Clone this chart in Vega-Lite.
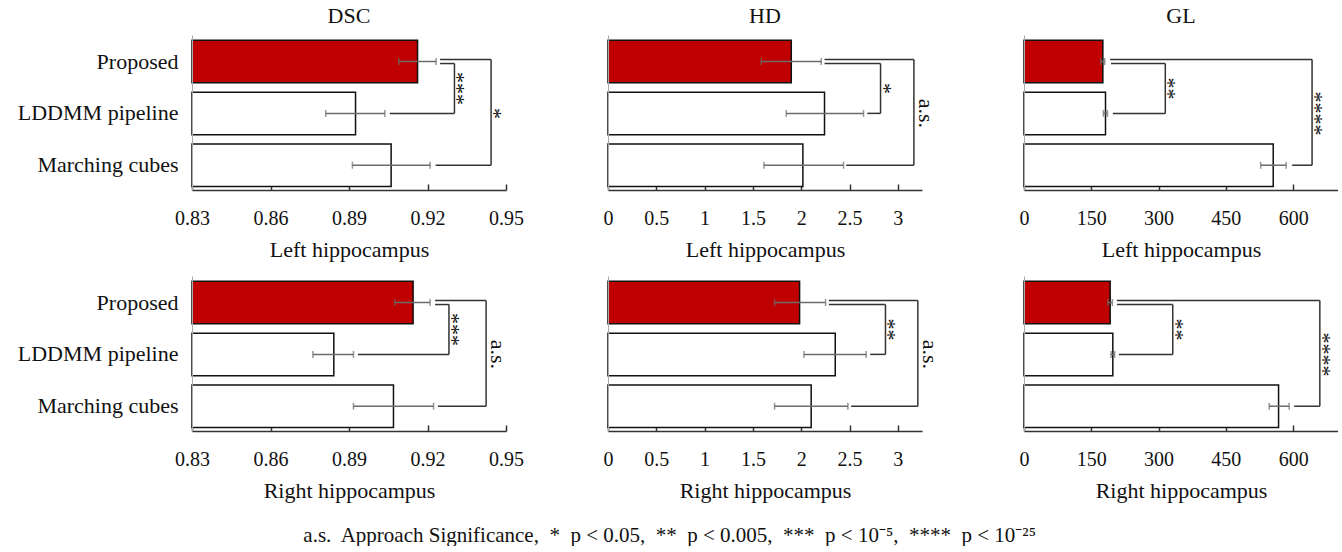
{
  "$schema": "https://vega.github.io/schema/vega-lite/v6.json",
  "padding": {"left": 17, "top": 5, "right": 0, "bottom": 0},
  "background": "white",
  "datasets": {
    "bars": [
      {"metric": "DSC", "side": "Left", "method": "Proposed", "value": 0.9162, "lo": 0.9090, "hi": 0.9233},
      {"metric": "DSC", "side": "Left", "method": "LDDMM pipeline", "value": 0.8925, "lo": 0.8811, "hi": 0.9037},
      {"metric": "DSC", "side": "Left", "method": "Marching cubes", "value": 0.9061, "lo": 0.8913, "hi": 0.9210},
      {"metric": "DSC", "side": "Right", "method": "Proposed", "value": 0.9145, "lo": 0.9075, "hi": 0.9210},
      {"metric": "DSC", "side": "Right", "method": "LDDMM pipeline", "value": 0.8842, "lo": 0.8762, "hi": 0.8917},
      {"metric": "DSC", "side": "Right", "method": "Marching cubes", "value": 0.9070, "lo": 0.8917, "hi": 0.9223},
      {"metric": "HD", "side": "Left", "method": "Proposed", "value": 1.897, "lo": 1.586, "hi": 2.207},
      {"metric": "HD", "side": "Left", "method": "LDDMM pipeline", "value": 2.241, "lo": 1.845, "hi": 2.645},
      {"metric": "HD", "side": "Left", "method": "Marching cubes", "value": 2.017, "lo": 1.614, "hi": 2.438},
      {"metric": "HD", "side": "Right", "method": "Proposed", "value": 1.983, "lo": 1.724, "hi": 2.252},
      {"metric": "HD", "side": "Right", "method": "LDDMM pipeline", "value": 2.352, "lo": 2.028, "hi": 2.672},
      {"metric": "HD", "side": "Right", "method": "Marching cubes", "value": 2.103, "lo": 1.724, "hi": 2.483},
      {"metric": "GL", "side": "Left", "method": "Proposed", "value": 175.8, "lo": 171, "hi": 180},
      {"metric": "GL", "side": "Left", "method": "LDDMM pipeline", "value": 181.7, "lo": 177, "hi": 186},
      {"metric": "GL", "side": "Left", "method": "Marching cubes", "value": 555.6, "lo": 527.6, "hi": 584.4},
      {"metric": "GL", "side": "Right", "method": "Proposed", "value": 192.1, "lo": 187, "hi": 197},
      {"metric": "GL", "side": "Right", "method": "LDDMM pipeline", "value": 198, "lo": 194, "hi": 202},
      {"metric": "GL", "side": "Right", "method": "Marching cubes", "value": 567.5, "lo": 546.7, "hi": 591.2}
    ],
    "brackets": [
      {"metric": "DSC", "side": "Left", "kind": "short", "from": "Proposed", "to": "LDDMM pipeline", "mid": "LDDMM pipeline", "start1": 0.9248, "start2": 0.9056, "bx": 0.9303, "label": "***"},
      {"metric": "DSC", "side": "Left", "kind": "long", "from": "Proposed", "to": "Marching cubes", "mid": "LDDMM pipeline", "start1": 0.9248, "start2": 0.9231, "bx": 0.9443, "label": "*"},
      {"metric": "DSC", "side": "Right", "kind": "short", "from": "Proposed", "to": "LDDMM pipeline", "mid": "LDDMM pipeline", "start1": 0.9229, "start2": 0.8934, "bx": 0.9282, "label": "***"},
      {"metric": "DSC", "side": "Right", "kind": "long", "from": "Proposed", "to": "Marching cubes", "mid": "LDDMM pipeline", "start1": 0.9229, "start2": 0.9240, "bx": 0.9424, "label": "a.s."},
      {"metric": "HD", "side": "Left", "kind": "short", "from": "Proposed", "to": "LDDMM pipeline", "mid": "LDDMM pipeline", "start1": 2.241, "start2": 2.683, "bx": 2.821, "label": "*"},
      {"metric": "HD", "side": "Left", "kind": "long", "from": "Proposed", "to": "Marching cubes", "mid": "LDDMM pipeline", "start1": 2.241, "start2": 2.466, "bx": 3.166, "label": "a.s."},
      {"metric": "HD", "side": "Right", "kind": "short", "from": "Proposed", "to": "LDDMM pipeline", "mid": "LDDMM pipeline", "start1": 2.286, "start2": 2.714, "bx": 2.872, "label": "**"},
      {"metric": "HD", "side": "Right", "kind": "long", "from": "Proposed", "to": "Marching cubes", "mid": "LDDMM pipeline", "start1": 2.286, "start2": 2.517, "bx": 3.207, "label": "a.s."},
      {"metric": "GL", "side": "Left", "kind": "short", "from": "Proposed", "to": "LDDMM pipeline", "mid": "LDDMM pipeline", "start1": 194, "start2": 198, "bx": 315, "label": "**"},
      {"metric": "GL", "side": "Left", "kind": "long", "from": "Proposed", "to": "Marching cubes", "mid": "LDDMM pipeline", "start1": 192, "start2": 597.7, "bx": 642.2, "label": "****"},
      {"metric": "GL", "side": "Right", "kind": "short", "from": "Proposed", "to": "LDDMM pipeline", "mid": "LDDMM pipeline", "start1": 207, "start2": 211.4, "bx": 331.6, "label": "**"},
      {"metric": "GL", "side": "Right", "kind": "long", "from": "Proposed", "to": "Marching cubes", "mid": "LDDMM pipeline", "start1": 207, "start2": 602.4, "bx": 659.5, "label": "****"}
    ]
  },
  "title": {"text": "a.s.\u00a0 Approach Significance,\u00a0 *\u00a0 p < 0.05,\u00a0 **\u00a0 p < 0.005,\u00a0 ***\u00a0 p < 10⁻⁵,\u00a0 ****\u00a0 p < 10⁻²⁵", "orient": "bottom", "anchor": "middle", "frame": "bounds", "fontSize": 21, "font": "Liberation Serif", "fontWeight": "normal", "color": "#111", "offset": 24, "dx": -8},
  "columns": 3,
  "spacing": {"row": 86, "column": 102},
  "bounds": "flush",
  "concat": [
    {
      "width": 314, "height": 155,
      "title": {"text": "DSC", "fontSize": 22, "font": "Liberation Serif", "fontWeight": "normal", "color": "#111", "offset": 7},
      "layer": [
        {
          "data": {"name": "bars"},
          "transform": [{"filter": "datum.metric == 'DSC' && datum.side == 'Left'"}],
          "layer": [
            {"mark": {"type": "bar", "stroke": "#111", "strokeWidth": 1.5},
             "encoding": {
               "y": {"field": "method", "type": "nominal", "scale": {"domain": ["Proposed", "LDDMM pipeline", "Marching cubes"], "paddingInner": 0.18, "paddingOuter": 0.085, "align": 0.6}, "axis": {"title": null, "ticks": false, "labelFontSize": 22, "labelPadding": 14, "domainColor": "#aaaaaa", "zindex": 1}},
               "x": {"field": "value", "type": "quantitative", "scale": {"domain": [0.83, 0.95], "nice": false, "zero": false}, "axis": {"title": "Left hippocampus", "values": [0.83, 0.86, 0.89, 0.92, 0.95], "format": ".2f"}},
               "x2": {"datum": 0.83},
               "fill": {"field": "method", "type": "nominal", "scale": {"domain": ["Proposed", "LDDMM pipeline", "Marching cubes"], "range": ["#c00000", "#ffffff", "#ffffff"]}, "legend": null}
             }},
            {"mark": {"type": "rule", "color": "#6b6b6b", "strokeWidth": 1.5},
             "encoding": {
               "y": {"field": "method", "type": "nominal", "scale": {"domain": ["Proposed", "LDDMM pipeline", "Marching cubes"], "paddingInner": 0.18, "paddingOuter": 0.085, "align": 0.6}},
               "x": {"field": "lo", "type": "quantitative", "scale": {"domain": [0.83, 0.95], "nice": false, "zero": false}},
               "x2": {"field": "hi"}
             }},
            {"mark": {"type": "tick", "color": "#6b6b6b", "thickness": 1.5, "size": 7},
             "encoding": {
               "y": {"field": "method", "type": "nominal", "scale": {"domain": ["Proposed", "LDDMM pipeline", "Marching cubes"], "paddingInner": 0.18, "paddingOuter": 0.085, "align": 0.6}},
               "x": {"field": "lo", "type": "quantitative", "scale": {"domain": [0.83, 0.95], "nice": false, "zero": false}}
             }},
            {"mark": {"type": "tick", "color": "#6b6b6b", "thickness": 1.5, "size": 7},
             "encoding": {
               "y": {"field": "method", "type": "nominal", "scale": {"domain": ["Proposed", "LDDMM pipeline", "Marching cubes"], "paddingInner": 0.18, "paddingOuter": 0.085, "align": 0.6}},
               "x": {"field": "hi", "type": "quantitative", "scale": {"domain": [0.83, 0.95], "nice": false, "zero": false}}
             }}
          ]
        },
        {
          "data": {"name": "brackets"},
          "transform": [{"filter": "datum.metric == 'DSC' && datum.side == 'Left'"}],
          "layer": [
            {"transform": [{"filter": "datum.kind == 'long'"}],
             "mark": {"type": "rule", "color": "#333333", "strokeWidth": 1.5, "yOffset": -2},
             "encoding": {
               "y": {"field": "from", "type": "nominal", "scale": {"domain": ["Proposed", "LDDMM pipeline", "Marching cubes"], "paddingInner": 0.18, "paddingOuter": 0.085, "align": 0.6}},
               "x": {"field": "start1", "type": "quantitative", "scale": {"domain": [0.83, 0.95], "nice": false, "zero": false}},
               "x2": {"field": "bx"}
             }},
            {"transform": [{"filter": "datum.kind == 'short'"}],
             "mark": {"type": "rule", "color": "#333333", "strokeWidth": 1.5, "yOffset": 2},
             "encoding": {
               "y": {"field": "from", "type": "nominal", "scale": {"domain": ["Proposed", "LDDMM pipeline", "Marching cubes"], "paddingInner": 0.18, "paddingOuter": 0.085, "align": 0.6}},
               "x": {"field": "start1", "type": "quantitative", "scale": {"domain": [0.83, 0.95], "nice": false, "zero": false}},
               "x2": {"field": "bx"}
             }},
            {"mark": {"type": "rule", "color": "#333333", "strokeWidth": 1.5},
             "encoding": {
               "y": {"field": "to", "type": "nominal", "scale": {"domain": ["Proposed", "LDDMM pipeline", "Marching cubes"], "paddingInner": 0.18, "paddingOuter": 0.085, "align": 0.6}},
               "x": {"field": "start2", "type": "quantitative", "scale": {"domain": [0.83, 0.95], "nice": false, "zero": false}},
               "x2": {"field": "bx"}
             }},
            {"transform": [{"filter": "datum.kind == 'long'"}],
             "mark": {"type": "rule", "color": "#333333", "strokeWidth": 1.5, "yOffset": -2},
             "encoding": {
               "y": {"field": "from", "type": "nominal", "scale": {"domain": ["Proposed", "LDDMM pipeline", "Marching cubes"], "paddingInner": 0.18, "paddingOuter": 0.085, "align": 0.6}},
               "y2": {"field": "to"},
               "x": {"field": "bx", "type": "quantitative", "scale": {"domain": [0.83, 0.95], "nice": false, "zero": false}}
             }},
            {"transform": [{"filter": "datum.kind == 'short'"}],
             "mark": {"type": "rule", "color": "#333333", "strokeWidth": 1.5, "yOffset": 2},
             "encoding": {
               "y": {"field": "from", "type": "nominal", "scale": {"domain": ["Proposed", "LDDMM pipeline", "Marching cubes"], "paddingInner": 0.18, "paddingOuter": 0.085, "align": 0.6}},
               "y2": {"field": "to"},
               "x": {"field": "bx", "type": "quantitative", "scale": {"domain": [0.83, 0.95], "nice": false, "zero": false}}
             }},
            {"transform": [{"filter": "datum.kind == 'short'"}],
             "mark": {"type": "text", "angle": 90, "fontSize": 22, "font": "Liberation Serif", "color": "#111111", "fill": "#111111", "align": "center", "baseline": "middle", "xOffset": 3, "yOffset": -25},
             "encoding": {
               "y": {"field": "to", "type": "nominal", "scale": {"domain": ["Proposed", "LDDMM pipeline", "Marching cubes"], "paddingInner": 0.18, "paddingOuter": 0.085, "align": 0.6}},
               "x": {"field": "bx", "type": "quantitative", "scale": {"domain": [0.83, 0.95], "nice": false, "zero": false}},
               "text": {"field": "label"}
             }},
            {"transform": [{"filter": "datum.kind == 'long' && datum.label != 'a.s.'"}],
             "mark": {"type": "text", "angle": 90, "fontSize": 22, "font": "Liberation Serif", "color": "#111111", "fill": "#111111", "align": "center", "baseline": "middle", "xOffset": 3},
             "encoding": {
               "y": {"field": "mid", "type": "nominal", "scale": {"domain": ["Proposed", "LDDMM pipeline", "Marching cubes"], "paddingInner": 0.18, "paddingOuter": 0.085, "align": 0.6}},
               "x": {"field": "bx", "type": "quantitative", "scale": {"domain": [0.83, 0.95], "nice": false, "zero": false}},
               "text": {"field": "label"}
             }},
            {"transform": [{"filter": "datum.label == 'a.s.'"}],
             "mark": {"type": "text", "angle": 90, "fontSize": 22, "font": "Liberation Serif", "color": "#111111", "fill": "#111111", "align": "center", "baseline": "middle", "xOffset": 12},
             "encoding": {
               "y": {"field": "mid", "type": "nominal", "scale": {"domain": ["Proposed", "LDDMM pipeline", "Marching cubes"], "paddingInner": 0.18, "paddingOuter": 0.085, "align": 0.6}},
               "x": {"field": "bx", "type": "quantitative", "scale": {"domain": [0.83, 0.95], "nice": false, "zero": false}},
               "text": {"field": "label"}
             }}
          ]
        }
      ]
    },
    {
      "width": 314, "height": 155,
      "title": {"text": "HD", "fontSize": 22, "font": "Liberation Serif", "fontWeight": "normal", "color": "#111", "offset": 7},
      "layer": [
        {
          "data": {"name": "bars"},
          "transform": [{"filter": "datum.metric == 'HD' && datum.side == 'Left'"}],
          "layer": [
            {"mark": {"type": "bar", "stroke": "#111", "strokeWidth": 1.5},
             "encoding": {
               "y": {"field": "method", "type": "nominal", "scale": {"domain": ["Proposed", "LDDMM pipeline", "Marching cubes"], "paddingInner": 0.18, "paddingOuter": 0.085, "align": 0.6}, "axis": {"title": null, "ticks": false, "labels": false, "domainColor": "#aaaaaa", "zindex": 1}},
               "x": {"field": "value", "type": "quantitative", "scale": {"domain": [0, 3.25], "nice": false, "zero": false}, "axis": {"title": "Left hippocampus", "values": [0, 0.5, 1, 1.5, 2, 2.5, 3], "format": "~g"}},
               "x2": {"datum": 0},
               "fill": {"field": "method", "type": "nominal", "scale": {"domain": ["Proposed", "LDDMM pipeline", "Marching cubes"], "range": ["#c00000", "#ffffff", "#ffffff"]}, "legend": null}
             }},
            {"mark": {"type": "rule", "color": "#6b6b6b", "strokeWidth": 1.5},
             "encoding": {
               "y": {"field": "method", "type": "nominal", "scale": {"domain": ["Proposed", "LDDMM pipeline", "Marching cubes"], "paddingInner": 0.18, "paddingOuter": 0.085, "align": 0.6}},
               "x": {"field": "lo", "type": "quantitative", "scale": {"domain": [0, 3.25], "nice": false, "zero": false}},
               "x2": {"field": "hi"}
             }},
            {"mark": {"type": "tick", "color": "#6b6b6b", "thickness": 1.5, "size": 7},
             "encoding": {
               "y": {"field": "method", "type": "nominal", "scale": {"domain": ["Proposed", "LDDMM pipeline", "Marching cubes"], "paddingInner": 0.18, "paddingOuter": 0.085, "align": 0.6}},
               "x": {"field": "lo", "type": "quantitative", "scale": {"domain": [0, 3.25], "nice": false, "zero": false}}
             }},
            {"mark": {"type": "tick", "color": "#6b6b6b", "thickness": 1.5, "size": 7},
             "encoding": {
               "y": {"field": "method", "type": "nominal", "scale": {"domain": ["Proposed", "LDDMM pipeline", "Marching cubes"], "paddingInner": 0.18, "paddingOuter": 0.085, "align": 0.6}},
               "x": {"field": "hi", "type": "quantitative", "scale": {"domain": [0, 3.25], "nice": false, "zero": false}}
             }}
          ]
        },
        {
          "data": {"name": "brackets"},
          "transform": [{"filter": "datum.metric == 'HD' && datum.side == 'Left'"}],
          "layer": [
            {"transform": [{"filter": "datum.kind == 'long'"}],
             "mark": {"type": "rule", "color": "#333333", "strokeWidth": 1.5, "yOffset": -2},
             "encoding": {
               "y": {"field": "from", "type": "nominal", "scale": {"domain": ["Proposed", "LDDMM pipeline", "Marching cubes"], "paddingInner": 0.18, "paddingOuter": 0.085, "align": 0.6}},
               "x": {"field": "start1", "type": "quantitative", "scale": {"domain": [0, 3.25], "nice": false, "zero": false}},
               "x2": {"field": "bx"}
             }},
            {"transform": [{"filter": "datum.kind == 'short'"}],
             "mark": {"type": "rule", "color": "#333333", "strokeWidth": 1.5, "yOffset": 2},
             "encoding": {
               "y": {"field": "from", "type": "nominal", "scale": {"domain": ["Proposed", "LDDMM pipeline", "Marching cubes"], "paddingInner": 0.18, "paddingOuter": 0.085, "align": 0.6}},
               "x": {"field": "start1", "type": "quantitative", "scale": {"domain": [0, 3.25], "nice": false, "zero": false}},
               "x2": {"field": "bx"}
             }},
            {"mark": {"type": "rule", "color": "#333333", "strokeWidth": 1.5},
             "encoding": {
               "y": {"field": "to", "type": "nominal", "scale": {"domain": ["Proposed", "LDDMM pipeline", "Marching cubes"], "paddingInner": 0.18, "paddingOuter": 0.085, "align": 0.6}},
               "x": {"field": "start2", "type": "quantitative", "scale": {"domain": [0, 3.25], "nice": false, "zero": false}},
               "x2": {"field": "bx"}
             }},
            {"transform": [{"filter": "datum.kind == 'long'"}],
             "mark": {"type": "rule", "color": "#333333", "strokeWidth": 1.5, "yOffset": -2},
             "encoding": {
               "y": {"field": "from", "type": "nominal", "scale": {"domain": ["Proposed", "LDDMM pipeline", "Marching cubes"], "paddingInner": 0.18, "paddingOuter": 0.085, "align": 0.6}},
               "y2": {"field": "to"},
               "x": {"field": "bx", "type": "quantitative", "scale": {"domain": [0, 3.25], "nice": false, "zero": false}}
             }},
            {"transform": [{"filter": "datum.kind == 'short'"}],
             "mark": {"type": "rule", "color": "#333333", "strokeWidth": 1.5, "yOffset": 2},
             "encoding": {
               "y": {"field": "from", "type": "nominal", "scale": {"domain": ["Proposed", "LDDMM pipeline", "Marching cubes"], "paddingInner": 0.18, "paddingOuter": 0.085, "align": 0.6}},
               "y2": {"field": "to"},
               "x": {"field": "bx", "type": "quantitative", "scale": {"domain": [0, 3.25], "nice": false, "zero": false}}
             }},
            {"transform": [{"filter": "datum.kind == 'short'"}],
             "mark": {"type": "text", "angle": 90, "fontSize": 22, "font": "Liberation Serif", "color": "#111111", "fill": "#111111", "align": "center", "baseline": "middle", "xOffset": 3, "yOffset": -25},
             "encoding": {
               "y": {"field": "to", "type": "nominal", "scale": {"domain": ["Proposed", "LDDMM pipeline", "Marching cubes"], "paddingInner": 0.18, "paddingOuter": 0.085, "align": 0.6}},
               "x": {"field": "bx", "type": "quantitative", "scale": {"domain": [0, 3.25], "nice": false, "zero": false}},
               "text": {"field": "label"}
             }},
            {"transform": [{"filter": "datum.kind == 'long' && datum.label != 'a.s.'"}],
             "mark": {"type": "text", "angle": 90, "fontSize": 22, "font": "Liberation Serif", "color": "#111111", "fill": "#111111", "align": "center", "baseline": "middle", "xOffset": 3},
             "encoding": {
               "y": {"field": "mid", "type": "nominal", "scale": {"domain": ["Proposed", "LDDMM pipeline", "Marching cubes"], "paddingInner": 0.18, "paddingOuter": 0.085, "align": 0.6}},
               "x": {"field": "bx", "type": "quantitative", "scale": {"domain": [0, 3.25], "nice": false, "zero": false}},
               "text": {"field": "label"}
             }},
            {"transform": [{"filter": "datum.label == 'a.s.'"}],
             "mark": {"type": "text", "angle": 90, "fontSize": 22, "font": "Liberation Serif", "color": "#111111", "fill": "#111111", "align": "center", "baseline": "middle", "xOffset": 12},
             "encoding": {
               "y": {"field": "mid", "type": "nominal", "scale": {"domain": ["Proposed", "LDDMM pipeline", "Marching cubes"], "paddingInner": 0.18, "paddingOuter": 0.085, "align": 0.6}},
               "x": {"field": "bx", "type": "quantitative", "scale": {"domain": [0, 3.25], "nice": false, "zero": false}},
               "text": {"field": "label"}
             }}
          ]
        }
      ]
    },
    {
      "width": 314, "height": 155,
      "title": {"text": "GL", "fontSize": 22, "font": "Liberation Serif", "fontWeight": "normal", "color": "#111", "offset": 7},
      "layer": [
        {
          "data": {"name": "bars"},
          "transform": [{"filter": "datum.metric == 'GL' && datum.side == 'Left'"}],
          "layer": [
            {"mark": {"type": "bar", "stroke": "#111", "strokeWidth": 1.5},
             "encoding": {
               "y": {"field": "method", "type": "nominal", "scale": {"domain": ["Proposed", "LDDMM pipeline", "Marching cubes"], "paddingInner": 0.18, "paddingOuter": 0.085, "align": 0.6}, "axis": {"title": null, "ticks": false, "labels": false, "domainColor": "#aaaaaa", "zindex": 1}},
               "x": {"field": "value", "type": "quantitative", "scale": {"domain": [0, 700], "nice": false, "zero": false}, "axis": {"title": "Left hippocampus", "values": [0, 150, 300, 450, 600], "format": "d"}},
               "x2": {"datum": 0},
               "fill": {"field": "method", "type": "nominal", "scale": {"domain": ["Proposed", "LDDMM pipeline", "Marching cubes"], "range": ["#c00000", "#ffffff", "#ffffff"]}, "legend": null}
             }},
            {"mark": {"type": "rule", "color": "#6b6b6b", "strokeWidth": 1.5},
             "encoding": {
               "y": {"field": "method", "type": "nominal", "scale": {"domain": ["Proposed", "LDDMM pipeline", "Marching cubes"], "paddingInner": 0.18, "paddingOuter": 0.085, "align": 0.6}},
               "x": {"field": "lo", "type": "quantitative", "scale": {"domain": [0, 700], "nice": false, "zero": false}},
               "x2": {"field": "hi"}
             }},
            {"mark": {"type": "tick", "color": "#6b6b6b", "thickness": 1.5, "size": 7},
             "encoding": {
               "y": {"field": "method", "type": "nominal", "scale": {"domain": ["Proposed", "LDDMM pipeline", "Marching cubes"], "paddingInner": 0.18, "paddingOuter": 0.085, "align": 0.6}},
               "x": {"field": "lo", "type": "quantitative", "scale": {"domain": [0, 700], "nice": false, "zero": false}}
             }},
            {"mark": {"type": "tick", "color": "#6b6b6b", "thickness": 1.5, "size": 7},
             "encoding": {
               "y": {"field": "method", "type": "nominal", "scale": {"domain": ["Proposed", "LDDMM pipeline", "Marching cubes"], "paddingInner": 0.18, "paddingOuter": 0.085, "align": 0.6}},
               "x": {"field": "hi", "type": "quantitative", "scale": {"domain": [0, 700], "nice": false, "zero": false}}
             }}
          ]
        },
        {
          "data": {"name": "brackets"},
          "transform": [{"filter": "datum.metric == 'GL' && datum.side == 'Left'"}],
          "layer": [
            {"transform": [{"filter": "datum.kind == 'long'"}],
             "mark": {"type": "rule", "color": "#333333", "strokeWidth": 1.5, "yOffset": -2},
             "encoding": {
               "y": {"field": "from", "type": "nominal", "scale": {"domain": ["Proposed", "LDDMM pipeline", "Marching cubes"], "paddingInner": 0.18, "paddingOuter": 0.085, "align": 0.6}},
               "x": {"field": "start1", "type": "quantitative", "scale": {"domain": [0, 700], "nice": false, "zero": false}},
               "x2": {"field": "bx"}
             }},
            {"transform": [{"filter": "datum.kind == 'short'"}],
             "mark": {"type": "rule", "color": "#333333", "strokeWidth": 1.5, "yOffset": 2},
             "encoding": {
               "y": {"field": "from", "type": "nominal", "scale": {"domain": ["Proposed", "LDDMM pipeline", "Marching cubes"], "paddingInner": 0.18, "paddingOuter": 0.085, "align": 0.6}},
               "x": {"field": "start1", "type": "quantitative", "scale": {"domain": [0, 700], "nice": false, "zero": false}},
               "x2": {"field": "bx"}
             }},
            {"mark": {"type": "rule", "color": "#333333", "strokeWidth": 1.5},
             "encoding": {
               "y": {"field": "to", "type": "nominal", "scale": {"domain": ["Proposed", "LDDMM pipeline", "Marching cubes"], "paddingInner": 0.18, "paddingOuter": 0.085, "align": 0.6}},
               "x": {"field": "start2", "type": "quantitative", "scale": {"domain": [0, 700], "nice": false, "zero": false}},
               "x2": {"field": "bx"}
             }},
            {"transform": [{"filter": "datum.kind == 'long'"}],
             "mark": {"type": "rule", "color": "#333333", "strokeWidth": 1.5, "yOffset": -2},
             "encoding": {
               "y": {"field": "from", "type": "nominal", "scale": {"domain": ["Proposed", "LDDMM pipeline", "Marching cubes"], "paddingInner": 0.18, "paddingOuter": 0.085, "align": 0.6}},
               "y2": {"field": "to"},
               "x": {"field": "bx", "type": "quantitative", "scale": {"domain": [0, 700], "nice": false, "zero": false}}
             }},
            {"transform": [{"filter": "datum.kind == 'short'"}],
             "mark": {"type": "rule", "color": "#333333", "strokeWidth": 1.5, "yOffset": 2},
             "encoding": {
               "y": {"field": "from", "type": "nominal", "scale": {"domain": ["Proposed", "LDDMM pipeline", "Marching cubes"], "paddingInner": 0.18, "paddingOuter": 0.085, "align": 0.6}},
               "y2": {"field": "to"},
               "x": {"field": "bx", "type": "quantitative", "scale": {"domain": [0, 700], "nice": false, "zero": false}}
             }},
            {"transform": [{"filter": "datum.kind == 'short'"}],
             "mark": {"type": "text", "angle": 90, "fontSize": 22, "font": "Liberation Serif", "color": "#111111", "fill": "#111111", "align": "center", "baseline": "middle", "xOffset": 3, "yOffset": -25},
             "encoding": {
               "y": {"field": "to", "type": "nominal", "scale": {"domain": ["Proposed", "LDDMM pipeline", "Marching cubes"], "paddingInner": 0.18, "paddingOuter": 0.085, "align": 0.6}},
               "x": {"field": "bx", "type": "quantitative", "scale": {"domain": [0, 700], "nice": false, "zero": false}},
               "text": {"field": "label"}
             }},
            {"transform": [{"filter": "datum.kind == 'long' && datum.label != 'a.s.'"}],
             "mark": {"type": "text", "angle": 90, "fontSize": 22, "font": "Liberation Serif", "color": "#111111", "fill": "#111111", "align": "center", "baseline": "middle", "xOffset": 3},
             "encoding": {
               "y": {"field": "mid", "type": "nominal", "scale": {"domain": ["Proposed", "LDDMM pipeline", "Marching cubes"], "paddingInner": 0.18, "paddingOuter": 0.085, "align": 0.6}},
               "x": {"field": "bx", "type": "quantitative", "scale": {"domain": [0, 700], "nice": false, "zero": false}},
               "text": {"field": "label"}
             }},
            {"transform": [{"filter": "datum.label == 'a.s.'"}],
             "mark": {"type": "text", "angle": 90, "fontSize": 22, "font": "Liberation Serif", "color": "#111111", "fill": "#111111", "align": "center", "baseline": "middle", "xOffset": 12},
             "encoding": {
               "y": {"field": "mid", "type": "nominal", "scale": {"domain": ["Proposed", "LDDMM pipeline", "Marching cubes"], "paddingInner": 0.18, "paddingOuter": 0.085, "align": 0.6}},
               "x": {"field": "bx", "type": "quantitative", "scale": {"domain": [0, 700], "nice": false, "zero": false}},
               "text": {"field": "label"}
             }}
          ]
        }
      ]
    },
    {
      "width": 314, "height": 155,
      "layer": [
        {
          "data": {"name": "bars"},
          "transform": [{"filter": "datum.metric == 'DSC' && datum.side == 'Right'"}],
          "layer": [
            {"mark": {"type": "bar", "stroke": "#111", "strokeWidth": 1.5},
             "encoding": {
               "y": {"field": "method", "type": "nominal", "scale": {"domain": ["Proposed", "LDDMM pipeline", "Marching cubes"], "paddingInner": 0.18, "paddingOuter": 0.085, "align": 0.6}, "axis": {"title": null, "ticks": false, "labelFontSize": 22, "labelPadding": 14, "domainColor": "#aaaaaa", "zindex": 1}},
               "x": {"field": "value", "type": "quantitative", "scale": {"domain": [0.83, 0.95], "nice": false, "zero": false}, "axis": {"title": "Right hippocampus", "values": [0.83, 0.86, 0.89, 0.92, 0.95], "format": ".2f"}},
               "x2": {"datum": 0.83},
               "fill": {"field": "method", "type": "nominal", "scale": {"domain": ["Proposed", "LDDMM pipeline", "Marching cubes"], "range": ["#c00000", "#ffffff", "#ffffff"]}, "legend": null}
             }},
            {"mark": {"type": "rule", "color": "#6b6b6b", "strokeWidth": 1.5},
             "encoding": {
               "y": {"field": "method", "type": "nominal", "scale": {"domain": ["Proposed", "LDDMM pipeline", "Marching cubes"], "paddingInner": 0.18, "paddingOuter": 0.085, "align": 0.6}},
               "x": {"field": "lo", "type": "quantitative", "scale": {"domain": [0.83, 0.95], "nice": false, "zero": false}},
               "x2": {"field": "hi"}
             }},
            {"mark": {"type": "tick", "color": "#6b6b6b", "thickness": 1.5, "size": 7},
             "encoding": {
               "y": {"field": "method", "type": "nominal", "scale": {"domain": ["Proposed", "LDDMM pipeline", "Marching cubes"], "paddingInner": 0.18, "paddingOuter": 0.085, "align": 0.6}},
               "x": {"field": "lo", "type": "quantitative", "scale": {"domain": [0.83, 0.95], "nice": false, "zero": false}}
             }},
            {"mark": {"type": "tick", "color": "#6b6b6b", "thickness": 1.5, "size": 7},
             "encoding": {
               "y": {"field": "method", "type": "nominal", "scale": {"domain": ["Proposed", "LDDMM pipeline", "Marching cubes"], "paddingInner": 0.18, "paddingOuter": 0.085, "align": 0.6}},
               "x": {"field": "hi", "type": "quantitative", "scale": {"domain": [0.83, 0.95], "nice": false, "zero": false}}
             }}
          ]
        },
        {
          "data": {"name": "brackets"},
          "transform": [{"filter": "datum.metric == 'DSC' && datum.side == 'Right'"}],
          "layer": [
            {"transform": [{"filter": "datum.kind == 'long'"}],
             "mark": {"type": "rule", "color": "#333333", "strokeWidth": 1.5, "yOffset": -2},
             "encoding": {
               "y": {"field": "from", "type": "nominal", "scale": {"domain": ["Proposed", "LDDMM pipeline", "Marching cubes"], "paddingInner": 0.18, "paddingOuter": 0.085, "align": 0.6}},
               "x": {"field": "start1", "type": "quantitative", "scale": {"domain": [0.83, 0.95], "nice": false, "zero": false}},
               "x2": {"field": "bx"}
             }},
            {"transform": [{"filter": "datum.kind == 'short'"}],
             "mark": {"type": "rule", "color": "#333333", "strokeWidth": 1.5, "yOffset": 2},
             "encoding": {
               "y": {"field": "from", "type": "nominal", "scale": {"domain": ["Proposed", "LDDMM pipeline", "Marching cubes"], "paddingInner": 0.18, "paddingOuter": 0.085, "align": 0.6}},
               "x": {"field": "start1", "type": "quantitative", "scale": {"domain": [0.83, 0.95], "nice": false, "zero": false}},
               "x2": {"field": "bx"}
             }},
            {"mark": {"type": "rule", "color": "#333333", "strokeWidth": 1.5},
             "encoding": {
               "y": {"field": "to", "type": "nominal", "scale": {"domain": ["Proposed", "LDDMM pipeline", "Marching cubes"], "paddingInner": 0.18, "paddingOuter": 0.085, "align": 0.6}},
               "x": {"field": "start2", "type": "quantitative", "scale": {"domain": [0.83, 0.95], "nice": false, "zero": false}},
               "x2": {"field": "bx"}
             }},
            {"transform": [{"filter": "datum.kind == 'long'"}],
             "mark": {"type": "rule", "color": "#333333", "strokeWidth": 1.5, "yOffset": -2},
             "encoding": {
               "y": {"field": "from", "type": "nominal", "scale": {"domain": ["Proposed", "LDDMM pipeline", "Marching cubes"], "paddingInner": 0.18, "paddingOuter": 0.085, "align": 0.6}},
               "y2": {"field": "to"},
               "x": {"field": "bx", "type": "quantitative", "scale": {"domain": [0.83, 0.95], "nice": false, "zero": false}}
             }},
            {"transform": [{"filter": "datum.kind == 'short'"}],
             "mark": {"type": "rule", "color": "#333333", "strokeWidth": 1.5, "yOffset": 2},
             "encoding": {
               "y": {"field": "from", "type": "nominal", "scale": {"domain": ["Proposed", "LDDMM pipeline", "Marching cubes"], "paddingInner": 0.18, "paddingOuter": 0.085, "align": 0.6}},
               "y2": {"field": "to"},
               "x": {"field": "bx", "type": "quantitative", "scale": {"domain": [0.83, 0.95], "nice": false, "zero": false}}
             }},
            {"transform": [{"filter": "datum.kind == 'short'"}],
             "mark": {"type": "text", "angle": 90, "fontSize": 22, "font": "Liberation Serif", "color": "#111111", "fill": "#111111", "align": "center", "baseline": "middle", "xOffset": 3, "yOffset": -25},
             "encoding": {
               "y": {"field": "to", "type": "nominal", "scale": {"domain": ["Proposed", "LDDMM pipeline", "Marching cubes"], "paddingInner": 0.18, "paddingOuter": 0.085, "align": 0.6}},
               "x": {"field": "bx", "type": "quantitative", "scale": {"domain": [0.83, 0.95], "nice": false, "zero": false}},
               "text": {"field": "label"}
             }},
            {"transform": [{"filter": "datum.kind == 'long' && datum.label != 'a.s.'"}],
             "mark": {"type": "text", "angle": 90, "fontSize": 22, "font": "Liberation Serif", "color": "#111111", "fill": "#111111", "align": "center", "baseline": "middle", "xOffset": 3},
             "encoding": {
               "y": {"field": "mid", "type": "nominal", "scale": {"domain": ["Proposed", "LDDMM pipeline", "Marching cubes"], "paddingInner": 0.18, "paddingOuter": 0.085, "align": 0.6}},
               "x": {"field": "bx", "type": "quantitative", "scale": {"domain": [0.83, 0.95], "nice": false, "zero": false}},
               "text": {"field": "label"}
             }},
            {"transform": [{"filter": "datum.label == 'a.s.'"}],
             "mark": {"type": "text", "angle": 90, "fontSize": 22, "font": "Liberation Serif", "color": "#111111", "fill": "#111111", "align": "center", "baseline": "middle", "xOffset": 12},
             "encoding": {
               "y": {"field": "mid", "type": "nominal", "scale": {"domain": ["Proposed", "LDDMM pipeline", "Marching cubes"], "paddingInner": 0.18, "paddingOuter": 0.085, "align": 0.6}},
               "x": {"field": "bx", "type": "quantitative", "scale": {"domain": [0.83, 0.95], "nice": false, "zero": false}},
               "text": {"field": "label"}
             }}
          ]
        }
      ]
    },
    {
      "width": 314, "height": 155,
      "layer": [
        {
          "data": {"name": "bars"},
          "transform": [{"filter": "datum.metric == 'HD' && datum.side == 'Right'"}],
          "layer": [
            {"mark": {"type": "bar", "stroke": "#111", "strokeWidth": 1.5},
             "encoding": {
               "y": {"field": "method", "type": "nominal", "scale": {"domain": ["Proposed", "LDDMM pipeline", "Marching cubes"], "paddingInner": 0.18, "paddingOuter": 0.085, "align": 0.6}, "axis": {"title": null, "ticks": false, "labels": false, "domainColor": "#aaaaaa", "zindex": 1}},
               "x": {"field": "value", "type": "quantitative", "scale": {"domain": [0, 3.25], "nice": false, "zero": false}, "axis": {"title": "Right hippocampus", "values": [0, 0.5, 1, 1.5, 2, 2.5, 3], "format": "~g"}},
               "x2": {"datum": 0},
               "fill": {"field": "method", "type": "nominal", "scale": {"domain": ["Proposed", "LDDMM pipeline", "Marching cubes"], "range": ["#c00000", "#ffffff", "#ffffff"]}, "legend": null}
             }},
            {"mark": {"type": "rule", "color": "#6b6b6b", "strokeWidth": 1.5},
             "encoding": {
               "y": {"field": "method", "type": "nominal", "scale": {"domain": ["Proposed", "LDDMM pipeline", "Marching cubes"], "paddingInner": 0.18, "paddingOuter": 0.085, "align": 0.6}},
               "x": {"field": "lo", "type": "quantitative", "scale": {"domain": [0, 3.25], "nice": false, "zero": false}},
               "x2": {"field": "hi"}
             }},
            {"mark": {"type": "tick", "color": "#6b6b6b", "thickness": 1.5, "size": 7},
             "encoding": {
               "y": {"field": "method", "type": "nominal", "scale": {"domain": ["Proposed", "LDDMM pipeline", "Marching cubes"], "paddingInner": 0.18, "paddingOuter": 0.085, "align": 0.6}},
               "x": {"field": "lo", "type": "quantitative", "scale": {"domain": [0, 3.25], "nice": false, "zero": false}}
             }},
            {"mark": {"type": "tick", "color": "#6b6b6b", "thickness": 1.5, "size": 7},
             "encoding": {
               "y": {"field": "method", "type": "nominal", "scale": {"domain": ["Proposed", "LDDMM pipeline", "Marching cubes"], "paddingInner": 0.18, "paddingOuter": 0.085, "align": 0.6}},
               "x": {"field": "hi", "type": "quantitative", "scale": {"domain": [0, 3.25], "nice": false, "zero": false}}
             }}
          ]
        },
        {
          "data": {"name": "brackets"},
          "transform": [{"filter": "datum.metric == 'HD' && datum.side == 'Right'"}],
          "layer": [
            {"transform": [{"filter": "datum.kind == 'long'"}],
             "mark": {"type": "rule", "color": "#333333", "strokeWidth": 1.5, "yOffset": -2},
             "encoding": {
               "y": {"field": "from", "type": "nominal", "scale": {"domain": ["Proposed", "LDDMM pipeline", "Marching cubes"], "paddingInner": 0.18, "paddingOuter": 0.085, "align": 0.6}},
               "x": {"field": "start1", "type": "quantitative", "scale": {"domain": [0, 3.25], "nice": false, "zero": false}},
               "x2": {"field": "bx"}
             }},
            {"transform": [{"filter": "datum.kind == 'short'"}],
             "mark": {"type": "rule", "color": "#333333", "strokeWidth": 1.5, "yOffset": 2},
             "encoding": {
               "y": {"field": "from", "type": "nominal", "scale": {"domain": ["Proposed", "LDDMM pipeline", "Marching cubes"], "paddingInner": 0.18, "paddingOuter": 0.085, "align": 0.6}},
               "x": {"field": "start1", "type": "quantitative", "scale": {"domain": [0, 3.25], "nice": false, "zero": false}},
               "x2": {"field": "bx"}
             }},
            {"mark": {"type": "rule", "color": "#333333", "strokeWidth": 1.5},
             "encoding": {
               "y": {"field": "to", "type": "nominal", "scale": {"domain": ["Proposed", "LDDMM pipeline", "Marching cubes"], "paddingInner": 0.18, "paddingOuter": 0.085, "align": 0.6}},
               "x": {"field": "start2", "type": "quantitative", "scale": {"domain": [0, 3.25], "nice": false, "zero": false}},
               "x2": {"field": "bx"}
             }},
            {"transform": [{"filter": "datum.kind == 'long'"}],
             "mark": {"type": "rule", "color": "#333333", "strokeWidth": 1.5, "yOffset": -2},
             "encoding": {
               "y": {"field": "from", "type": "nominal", "scale": {"domain": ["Proposed", "LDDMM pipeline", "Marching cubes"], "paddingInner": 0.18, "paddingOuter": 0.085, "align": 0.6}},
               "y2": {"field": "to"},
               "x": {"field": "bx", "type": "quantitative", "scale": {"domain": [0, 3.25], "nice": false, "zero": false}}
             }},
            {"transform": [{"filter": "datum.kind == 'short'"}],
             "mark": {"type": "rule", "color": "#333333", "strokeWidth": 1.5, "yOffset": 2},
             "encoding": {
               "y": {"field": "from", "type": "nominal", "scale": {"domain": ["Proposed", "LDDMM pipeline", "Marching cubes"], "paddingInner": 0.18, "paddingOuter": 0.085, "align": 0.6}},
               "y2": {"field": "to"},
               "x": {"field": "bx", "type": "quantitative", "scale": {"domain": [0, 3.25], "nice": false, "zero": false}}
             }},
            {"transform": [{"filter": "datum.kind == 'short'"}],
             "mark": {"type": "text", "angle": 90, "fontSize": 22, "font": "Liberation Serif", "color": "#111111", "fill": "#111111", "align": "center", "baseline": "middle", "xOffset": 3, "yOffset": -25},
             "encoding": {
               "y": {"field": "to", "type": "nominal", "scale": {"domain": ["Proposed", "LDDMM pipeline", "Marching cubes"], "paddingInner": 0.18, "paddingOuter": 0.085, "align": 0.6}},
               "x": {"field": "bx", "type": "quantitative", "scale": {"domain": [0, 3.25], "nice": false, "zero": false}},
               "text": {"field": "label"}
             }},
            {"transform": [{"filter": "datum.kind == 'long' && datum.label != 'a.s.'"}],
             "mark": {"type": "text", "angle": 90, "fontSize": 22, "font": "Liberation Serif", "color": "#111111", "fill": "#111111", "align": "center", "baseline": "middle", "xOffset": 3},
             "encoding": {
               "y": {"field": "mid", "type": "nominal", "scale": {"domain": ["Proposed", "LDDMM pipeline", "Marching cubes"], "paddingInner": 0.18, "paddingOuter": 0.085, "align": 0.6}},
               "x": {"field": "bx", "type": "quantitative", "scale": {"domain": [0, 3.25], "nice": false, "zero": false}},
               "text": {"field": "label"}
             }},
            {"transform": [{"filter": "datum.label == 'a.s.'"}],
             "mark": {"type": "text", "angle": 90, "fontSize": 22, "font": "Liberation Serif", "color": "#111111", "fill": "#111111", "align": "center", "baseline": "middle", "xOffset": 12},
             "encoding": {
               "y": {"field": "mid", "type": "nominal", "scale": {"domain": ["Proposed", "LDDMM pipeline", "Marching cubes"], "paddingInner": 0.18, "paddingOuter": 0.085, "align": 0.6}},
               "x": {"field": "bx", "type": "quantitative", "scale": {"domain": [0, 3.25], "nice": false, "zero": false}},
               "text": {"field": "label"}
             }}
          ]
        }
      ]
    },
    {
      "width": 314, "height": 155,
      "layer": [
        {
          "data": {"name": "bars"},
          "transform": [{"filter": "datum.metric == 'GL' && datum.side == 'Right'"}],
          "layer": [
            {"mark": {"type": "bar", "stroke": "#111", "strokeWidth": 1.5},
             "encoding": {
               "y": {"field": "method", "type": "nominal", "scale": {"domain": ["Proposed", "LDDMM pipeline", "Marching cubes"], "paddingInner": 0.18, "paddingOuter": 0.085, "align": 0.6}, "axis": {"title": null, "ticks": false, "labels": false, "domainColor": "#aaaaaa", "zindex": 1}},
               "x": {"field": "value", "type": "quantitative", "scale": {"domain": [0, 700], "nice": false, "zero": false}, "axis": {"title": "Right hippocampus", "values": [0, 150, 300, 450, 600], "format": "d"}},
               "x2": {"datum": 0},
               "fill": {"field": "method", "type": "nominal", "scale": {"domain": ["Proposed", "LDDMM pipeline", "Marching cubes"], "range": ["#c00000", "#ffffff", "#ffffff"]}, "legend": null}
             }},
            {"mark": {"type": "rule", "color": "#6b6b6b", "strokeWidth": 1.5},
             "encoding": {
               "y": {"field": "method", "type": "nominal", "scale": {"domain": ["Proposed", "LDDMM pipeline", "Marching cubes"], "paddingInner": 0.18, "paddingOuter": 0.085, "align": 0.6}},
               "x": {"field": "lo", "type": "quantitative", "scale": {"domain": [0, 700], "nice": false, "zero": false}},
               "x2": {"field": "hi"}
             }},
            {"mark": {"type": "tick", "color": "#6b6b6b", "thickness": 1.5, "size": 7},
             "encoding": {
               "y": {"field": "method", "type": "nominal", "scale": {"domain": ["Proposed", "LDDMM pipeline", "Marching cubes"], "paddingInner": 0.18, "paddingOuter": 0.085, "align": 0.6}},
               "x": {"field": "lo", "type": "quantitative", "scale": {"domain": [0, 700], "nice": false, "zero": false}}
             }},
            {"mark": {"type": "tick", "color": "#6b6b6b", "thickness": 1.5, "size": 7},
             "encoding": {
               "y": {"field": "method", "type": "nominal", "scale": {"domain": ["Proposed", "LDDMM pipeline", "Marching cubes"], "paddingInner": 0.18, "paddingOuter": 0.085, "align": 0.6}},
               "x": {"field": "hi", "type": "quantitative", "scale": {"domain": [0, 700], "nice": false, "zero": false}}
             }}
          ]
        },
        {
          "data": {"name": "brackets"},
          "transform": [{"filter": "datum.metric == 'GL' && datum.side == 'Right'"}],
          "layer": [
            {"transform": [{"filter": "datum.kind == 'long'"}],
             "mark": {"type": "rule", "color": "#333333", "strokeWidth": 1.5, "yOffset": -2},
             "encoding": {
               "y": {"field": "from", "type": "nominal", "scale": {"domain": ["Proposed", "LDDMM pipeline", "Marching cubes"], "paddingInner": 0.18, "paddingOuter": 0.085, "align": 0.6}},
               "x": {"field": "start1", "type": "quantitative", "scale": {"domain": [0, 700], "nice": false, "zero": false}},
               "x2": {"field": "bx"}
             }},
            {"transform": [{"filter": "datum.kind == 'short'"}],
             "mark": {"type": "rule", "color": "#333333", "strokeWidth": 1.5, "yOffset": 2},
             "encoding": {
               "y": {"field": "from", "type": "nominal", "scale": {"domain": ["Proposed", "LDDMM pipeline", "Marching cubes"], "paddingInner": 0.18, "paddingOuter": 0.085, "align": 0.6}},
               "x": {"field": "start1", "type": "quantitative", "scale": {"domain": [0, 700], "nice": false, "zero": false}},
               "x2": {"field": "bx"}
             }},
            {"mark": {"type": "rule", "color": "#333333", "strokeWidth": 1.5},
             "encoding": {
               "y": {"field": "to", "type": "nominal", "scale": {"domain": ["Proposed", "LDDMM pipeline", "Marching cubes"], "paddingInner": 0.18, "paddingOuter": 0.085, "align": 0.6}},
               "x": {"field": "start2", "type": "quantitative", "scale": {"domain": [0, 700], "nice": false, "zero": false}},
               "x2": {"field": "bx"}
             }},
            {"transform": [{"filter": "datum.kind == 'long'"}],
             "mark": {"type": "rule", "color": "#333333", "strokeWidth": 1.5, "yOffset": -2},
             "encoding": {
               "y": {"field": "from", "type": "nominal", "scale": {"domain": ["Proposed", "LDDMM pipeline", "Marching cubes"], "paddingInner": 0.18, "paddingOuter": 0.085, "align": 0.6}},
               "y2": {"field": "to"},
               "x": {"field": "bx", "type": "quantitative", "scale": {"domain": [0, 700], "nice": false, "zero": false}}
             }},
            {"transform": [{"filter": "datum.kind == 'short'"}],
             "mark": {"type": "rule", "color": "#333333", "strokeWidth": 1.5, "yOffset": 2},
             "encoding": {
               "y": {"field": "from", "type": "nominal", "scale": {"domain": ["Proposed", "LDDMM pipeline", "Marching cubes"], "paddingInner": 0.18, "paddingOuter": 0.085, "align": 0.6}},
               "y2": {"field": "to"},
               "x": {"field": "bx", "type": "quantitative", "scale": {"domain": [0, 700], "nice": false, "zero": false}}
             }},
            {"transform": [{"filter": "datum.kind == 'short'"}],
             "mark": {"type": "text", "angle": 90, "fontSize": 22, "font": "Liberation Serif", "color": "#111111", "fill": "#111111", "align": "center", "baseline": "middle", "xOffset": 3, "yOffset": -25},
             "encoding": {
               "y": {"field": "to", "type": "nominal", "scale": {"domain": ["Proposed", "LDDMM pipeline", "Marching cubes"], "paddingInner": 0.18, "paddingOuter": 0.085, "align": 0.6}},
               "x": {"field": "bx", "type": "quantitative", "scale": {"domain": [0, 700], "nice": false, "zero": false}},
               "text": {"field": "label"}
             }},
            {"transform": [{"filter": "datum.kind == 'long' && datum.label != 'a.s.'"}],
             "mark": {"type": "text", "angle": 90, "fontSize": 22, "font": "Liberation Serif", "color": "#111111", "fill": "#111111", "align": "center", "baseline": "middle", "xOffset": 3},
             "encoding": {
               "y": {"field": "mid", "type": "nominal", "scale": {"domain": ["Proposed", "LDDMM pipeline", "Marching cubes"], "paddingInner": 0.18, "paddingOuter": 0.085, "align": 0.6}},
               "x": {"field": "bx", "type": "quantitative", "scale": {"domain": [0, 700], "nice": false, "zero": false}},
               "text": {"field": "label"}
             }},
            {"transform": [{"filter": "datum.label == 'a.s.'"}],
             "mark": {"type": "text", "angle": 90, "fontSize": 22, "font": "Liberation Serif", "color": "#111111", "fill": "#111111", "align": "center", "baseline": "middle", "xOffset": 12},
             "encoding": {
               "y": {"field": "mid", "type": "nominal", "scale": {"domain": ["Proposed", "LDDMM pipeline", "Marching cubes"], "paddingInner": 0.18, "paddingOuter": 0.085, "align": 0.6}},
               "x": {"field": "bx", "type": "quantitative", "scale": {"domain": [0, 700], "nice": false, "zero": false}},
               "text": {"field": "label"}
             }}
          ]
        }
      ]
    }
  ],
  "config": {
    "view": {"stroke": null},
    "font": "Liberation Serif",
    "axis": {"labelFont": "Liberation Serif", "titleFont": "Liberation Serif", "labelColor": "#111111", "titleColor": "#111111", "titleFontWeight": "normal", "grid": false},
    "axisX": {"tickSize": -6, "tickWidth": 1.5, "tickColor": "#333333", "domainColor": "#333333", "domainWidth": 1.5, "labelFontSize": 20, "titleFontSize": 22, "labelPadding": 24, "titlePadding": 11, "zindex": 1, "labelFlush": false}
  }
}
